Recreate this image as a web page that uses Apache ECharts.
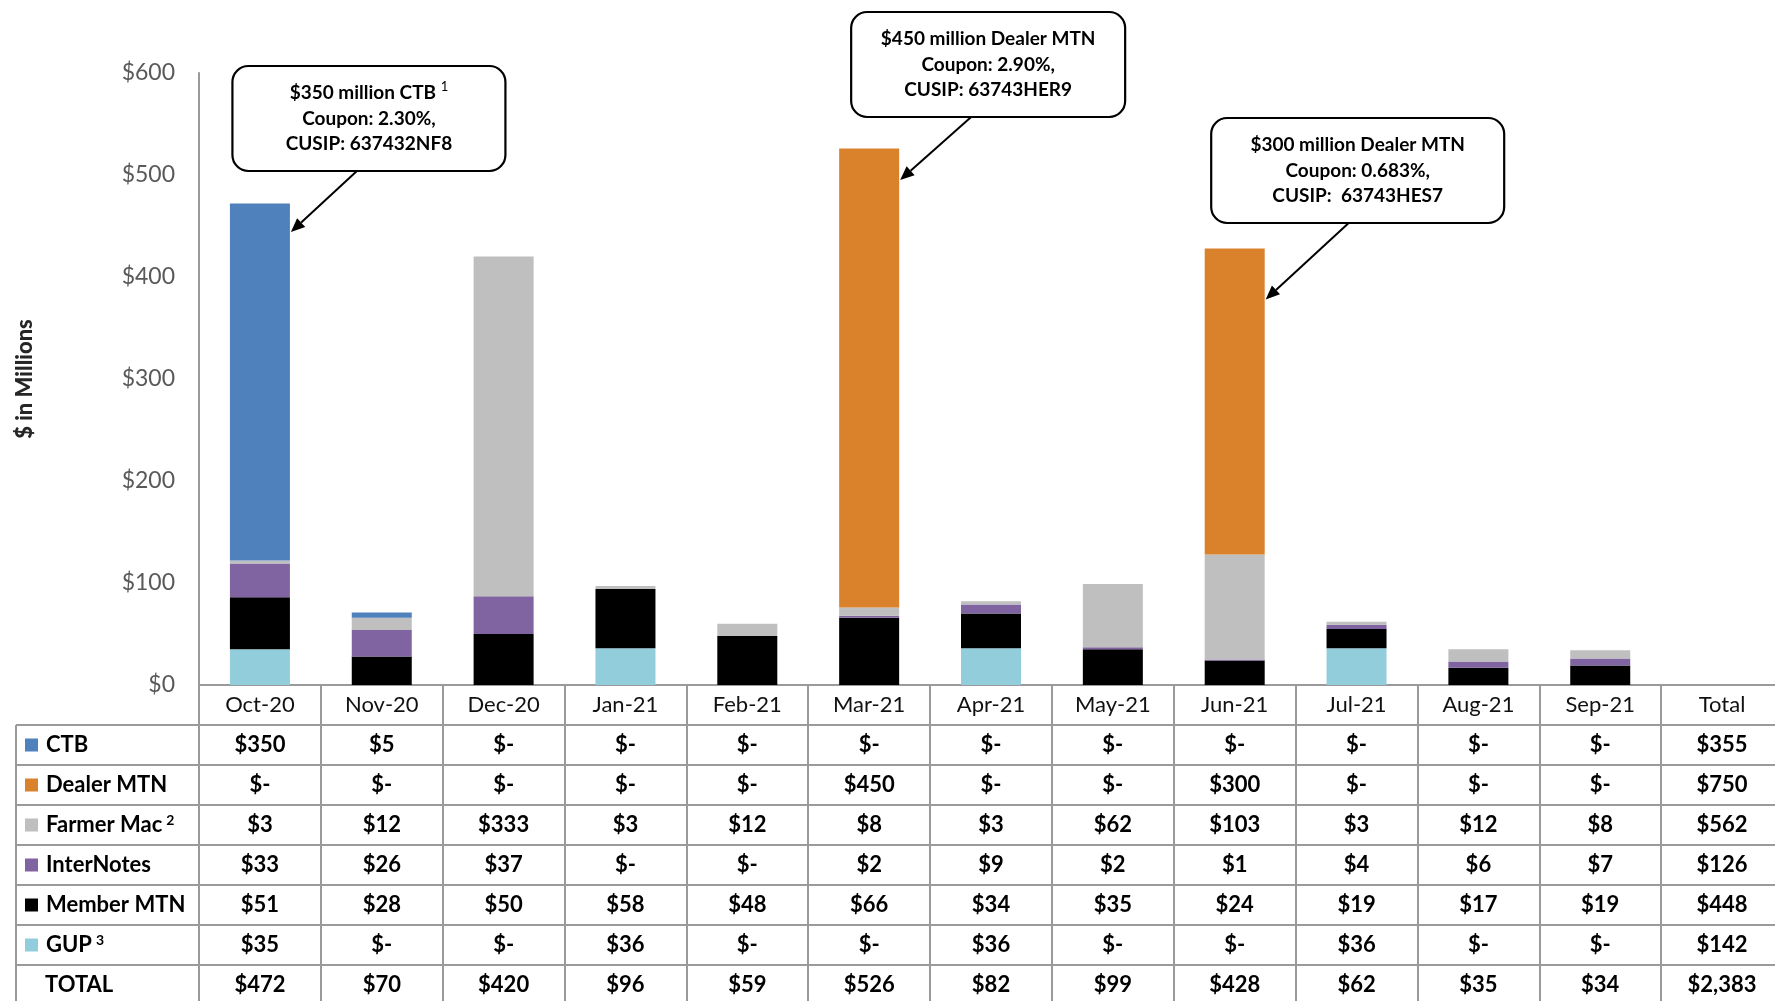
<!DOCTYPE html>
<html><head><meta charset="utf-8">
<script src="https://cdn.jsdelivr.net/npm/echarts@6/dist/echarts.min.js"></script>
<style>html,body{margin:0;padding:0;background:#fff}#c{width:1775px;height:1001px}</style>
</head><body><div id="c"></div>
<script>
// ---------- data ----------
const months = ['Oct-20','Nov-20','Dec-20','Jan-21','Feb-21','Mar-21','Apr-21','May-21','Jun-21','Jul-21','Aug-21','Sep-21'];
const totalColLabel = 'Total';
const ctb        = [350, 5, 0, 0, 0, 0, 0, 0, 0, 0, 0, 0];
const dealerMtn  = [0, 0, 0, 0, 0, 450, 0, 0, 300, 0, 0, 0];
const farmerMac  = [3, 12, 333, 3, 12, 8, 3, 62, 103, 3, 12, 8];
const interNotes = [33, 26, 37, 0, 0, 2, 9, 2, 1, 4, 6, 7];
const memberMtn  = [51, 28, 50, 58, 48, 66, 34, 35, 24, 19, 17, 19];
const gup        = [35, 0, 0, 36, 0, 0, 36, 0, 0, 36, 0, 0];
const monthTotals = [472, 70, 420, 96, 59, 526, 82, 99, 428, 62, 35, 34];
const rowTotals = { ctb: 355, dealer: 750, farmer: 562, inter: 126, member: 448, gup: 142, total: 2383 };
const yTicks = { min: 0, max: 600, step: 100 };

const notes = [
  { cat: 'Oct-20', lines: ['$350 million CTB {sup|1}', 'Coupon: 2.30%,', 'CUSIP: 637432NF8'] },
  { cat: 'Mar-21', lines: ['$450 million Dealer MTN', 'Coupon: 2.90%,', 'CUSIP: 63743HER9'] },
  { cat: 'Jun-21', lines: ['$300 million Dealer MTN', 'Coupon: 0.683%,', 'CUSIP:  63743HES7'] }
];
// callout layout (pixels relative to the category centre; tip given on value scale)
const noteLayout = [
  { boxDx: 109, boxTop: 66, boxW: 273, boxH: 105, tailDx: 97, tipVal: 444 },
  { boxDx: 119, boxTop: 12, boxW: 274, boxH: 105, tailDx: 102, tipVal: 495 },
  { boxDx: 123, boxTop: 118, boxW: 293, boxH: 105, tailDx: 114, tipVal: 378 }
];

// ---------- build ----------
const FONT = 'Lato, "Open Sans", sans-serif';
const cats = months.concat([totalColLabel]);
const colors = { ctb: '#4F81BD', dealer: '#D9822B', farmer: '#BFBFBF', inter: '#8064A2', member: '#000000', gup: '#92CDDC' };
const fmt = v => (v === 0 ? '$-' : '$' + v.toLocaleString('en-US'));

const rows = [
  { key: 'ctb', name: 'CTB', label: 'CTB', data: ctb },
  { key: 'dealer', name: 'Dealer MTN', label: 'Dealer MTN', data: dealerMtn },
  { key: 'farmer', name: 'Farmer Mac', label: 'Farmer Mac{sup|2}', data: farmerMac },
  { key: 'inter', name: 'InterNotes', label: 'InterNotes', data: interNotes },
  { key: 'member', name: 'Member MTN', label: 'Member MTN', data: memberMtn },
  { key: 'gup', name: 'GUP', label: 'GUP{sup|3}', data: gup },
  { key: 'total', name: 'TOTAL', label: 'TOTAL', data: monthTotals }
];
const ROW_H = 40;
const GRID = { left: 199, top: 73, right: -8, bottom: 316 };
const lineColor = '#9A9A9A';

const xAxes = [{
  type: 'category', data: cats, gridIndex: 0, position: 'bottom',
  axisLine: { show: true, onZero: false, lineStyle: { color: lineColor, width: 2 } },
  axisTick: { show: true, interval: 0, length: 340, lineStyle: { color: lineColor, width: 2 } },
  axisLabel: { interval: 0, margin: 20, verticalAlign: 'middle', color: '#111', fontFamily: FONT, fontSize: 22 },
  splitLine: { show: false }
}];
rows.forEach((r, i) => {
  xAxes.push({
    type: 'category', data: cats, gridIndex: 0, position: 'bottom', offset: ROW_H * (i + 1),
    axisLine: { show: true, onZero: false, lineStyle: { color: lineColor, width: 2 } },
    axisTick: { show: false },
    axisLabel: {
      interval: 0, margin: 20, verticalAlign: 'middle', color: '#000', fontFamily: FONT, fontSize: 22, fontWeight: 'bold',
      formatter: (v, idx) => fmt(idx < 12 ? r.data[idx] : rowTotals[r.key])
    },
    splitLine: { show: false }
  });
});

const stackOrder = ['gup', 'member', 'inter', 'farmer', 'dealer', 'ctb'];
const series = stackOrder.map(k => {
  const r = rows.find(x => x.key === k);
  return {
    name: r.name, type: 'bar', stack: 'all', xAxisIndex: 0, yAxisIndex: 0,
    barWidth: 60, data: r.data, itemStyle: { color: colors[k] }, emphasis: { disabled: true }
  };
});

const legendRows = rows.filter(r => r.key !== 'total');
const option = {
  backgroundColor: '#fff',
  animation: false,
  grid: Object.assign({ containLabel: false, outerBoundsMode: 'none' }, GRID),
  legend: {
    orient: 'vertical', left: 25, top: 725 + (ROW_H - 24) / 2, itemGap: ROW_H - 24, padding: 0,
    itemWidth: 13, itemHeight: 13, icon: 'rect', selectedMode: false,
    data: legendRows.map(r => r.name),
    formatter: name => '{g|}' + legendRows.find(r => r.name === name).label,
    textStyle: {
      fontFamily: FONT, fontSize: 22, fontWeight: 'bold', color: '#000', lineHeight: 24,
      rich: {
        g: { width: 3 },
        sup: { fontFamily: FONT, fontSize: 14, verticalAlign: 'top', lineHeight: 12, padding: [0, 0, 0, 4], color: '#000' }
      }
    }
  },
  xAxis: xAxes,
  yAxis: {
    type: 'value', min: yTicks.min, max: yTicks.max, interval: yTicks.step,
    name: '$ in Millions', nameLocation: 'middle', nameGap: 163,
    nameTextStyle: { fontFamily: FONT, fontSize: 22, fontWeight: 900, color: '#262626' },
    axisLine: { show: true, lineStyle: { color: lineColor, width: 2 } },
    axisTick: { show: false },
    splitLine: { show: false },
    axisLabel: { margin: 24, color: '#595959', fontFamily: FONT, fontSize: 23, formatter: v => '$' + v }
  },
  series: series
};

const chart = echarts.init(document.getElementById('c'), null, { renderer: 'canvas' });
chart.setOption(option);

// ---------- table frame (left part) & callouts ----------
const graphics = [];
const baseY = chart.convertToPixel({ yAxisIndex: 0 }, 0);
const axisX = GRID.left;
for (let i = 1; i <= rows.length; i++) {
  const y = baseY + ROW_H * i;
  graphics.push({ type: 'line', shape: { x1: 16, y1: y, x2: axisX, y2: y }, style: { stroke: lineColor, lineWidth: 2 }, silent: true });
}
graphics.push({ type: 'line', shape: { x1: 16, y1: baseY + ROW_H, x2: 16, y2: 1001 }, style: { stroke: lineColor, lineWidth: 2 }, silent: true });
graphics.push({
  type: 'text', x: 45, y: baseY + ROW_H * 7 + ROW_H / 2,
  style: { text: 'TOTAL', fontFamily: FONT, fontSize: 22, fontWeight: 'bold', fill: '#000', verticalAlign: 'middle', align: 'left' }
});

notes.forEach((n, i) => {
  const L = noteLayout[i];
  const idx = months.indexOf(n.cat);
  const [cx] = chart.convertToPixel({ xAxisIndex: 0, yAxisIndex: 0 }, [idx, 0]);
  const tipY = chart.convertToPixel({ yAxisIndex: 0 }, L.tipVal);
  const tipX = cx + 31;
  const bx = cx + L.boxDx - L.boxW / 2;
  const sx = cx + L.tailDx, sy = L.boxTop + L.boxH;
  const ang = Math.atan2(tipY - sy, tipX - sx);
  const ah = 14, aw = 6;
  const bxp = tipX - ah * Math.cos(ang), byp = tipY - ah * Math.sin(ang);
  const px = -Math.sin(ang) * aw, py = Math.cos(ang) * aw;
  graphics.push({ type: 'rect', z: 10, shape: { x: bx, y: L.boxTop, width: L.boxW, height: L.boxH, r: 16 }, style: { fill: '#fff', stroke: '#000', lineWidth: 2.2 } });
  graphics.push({
    type: 'text', z: 11, x: cx + L.boxDx, y: L.boxTop + L.boxH / 2,
    style: {
      text: n.lines.join('\n'), align: 'center', verticalAlign: 'middle', lineHeight: 25.5,
      fontFamily: FONT, fontSize: 19, fontWeight: 'bold', fill: '#000',
      rich: { sup: { fontFamily: FONT, fontSize: 13, fontWeight: 'normal', verticalAlign: 'top', lineHeight: 12, fill: '#000' } }
    }
  });
  graphics.push({ type: 'line', z: 10, shape: { x1: sx, y1: sy, x2: bxp, y2: byp }, style: { stroke: '#000', lineWidth: 2 } });
  graphics.push({ type: 'polygon', z: 10, shape: { points: [[tipX, tipY], [bxp + px, byp + py], [bxp - px, byp - py]] }, style: { fill: '#000' } });
});
chart.setOption({ graphic: graphics });
</script>
</body></html>
